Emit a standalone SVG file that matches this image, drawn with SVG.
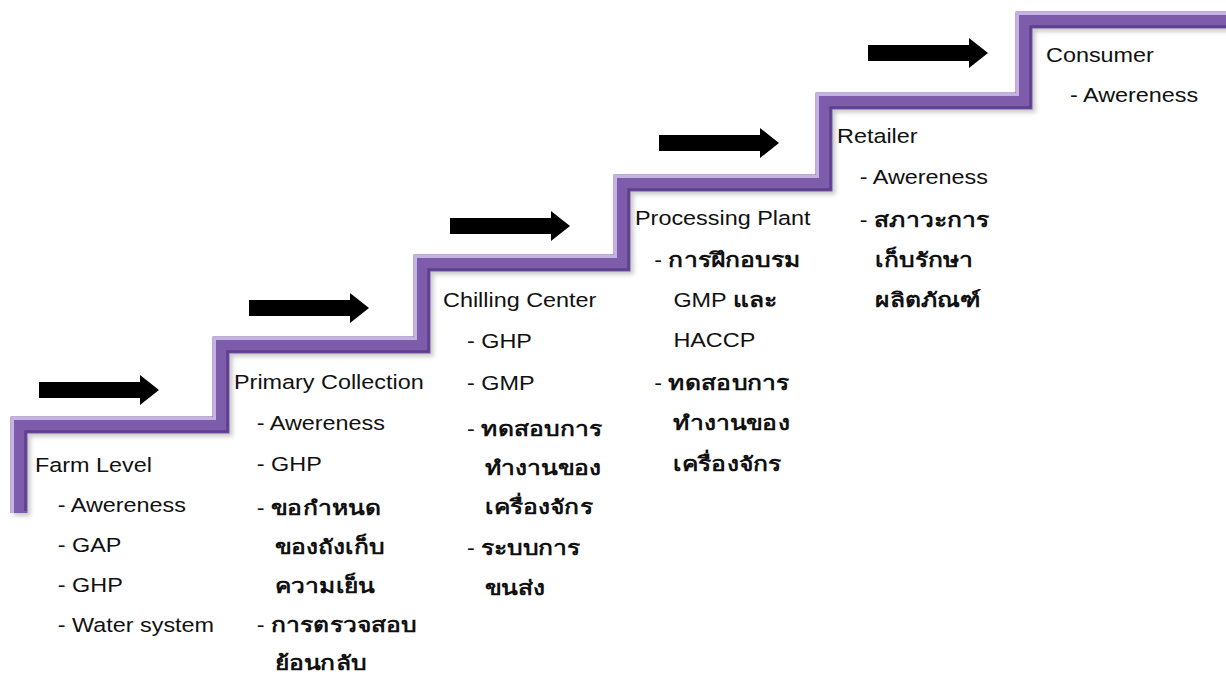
<svg xmlns="http://www.w3.org/2000/svg" width="1226" height="677" viewBox="0 0 1226 677">
<style>
text{font-family:"Liberation Sans","Noto Sans","DejaVu Sans",sans-serif;font-size:19.5px;fill:#111}
.th{font-weight:bold;font-size:20.5px}
.st{fill:none;stroke-linejoin:miter;stroke-linecap:butt}
</style>
<defs>
<filter id="blur" x="-5%" y="-5%" width="110%" height="110%"><feGaussianBlur stdDeviation="2"/></filter>
<path id="arr" d="M0,-8 H101 V-15 L120,0 L101,15 V8 H0 Z" fill="#000"/>
</defs>
<rect width="1226" height="677" fill="#fff"/>
<g id="stairs">
<path class="st" d="M19,513 V425 H221 V345 H422 V263 H622 V183 H824 V101 H1024 V20 H1230" stroke="#888" stroke-width="17" opacity="0.45" transform="translate(3,3)" filter="url(#blur)"/>
<path class="st" d="M19,513 V425 H221 V345 H422 V263 H622 V183 H824 V101 H1024 V20 H1230" stroke="#7e5cac" stroke-width="17"/>
<path class="st" d="M12.5,513 V418.5 H214.5 V338.5 H415.5 V256.5 H615.5 V176.5 H817.5 V94.5 H1017.5 V13.5 H1230" stroke="#c4b2e2" stroke-width="3"/>
<path class="st" d="M25.5,511 V431.5 H227.5 V351.5 H428.5 V269.5 H628.5 V189.5 H830.5 V107.5 H1030.5 V26.5 H1230" stroke="#5e3f8c" stroke-width="2.5"/>
</g>
<g id="connectors">
<use href="#arr" transform="translate(39,390)"/>
<use href="#arr" transform="translate(249,308)"/>
<use href="#arr" transform="translate(450,226)"/>
<use href="#arr" transform="translate(659,143)"/>
<use href="#arr" transform="translate(868,53)"/>
</g>
<g id="farm" transform="translate(35,0) scale(1.2,1)">
<text x="0" y="472">Farm Level</text>
<text x="19" y="512">- Awereness</text>
<text x="19" y="552">- GAP</text>
<text x="19" y="592">- GHP</text>
<text x="19" y="632">- Water system</text>
</g>
<g id="primary" transform="translate(234,0) scale(1.2,1)">
<text x="0" y="389">Primary Collection</text>
<text x="19" y="430">- Awereness</text>
<text x="19" y="471">- GHP</text>
<text x="19" y="515">- <tspan class="th">ขอกำหนด</tspan></text>
<text x="34" y="554" class="th">ของถังเก็บ</text>
<text x="34" y="593" class="th">ความเย็น</text>
<text x="19" y="632">- <tspan class="th">การตรวจสอบ</tspan></text>
<text x="34" y="670" class="th">ย้อนกลับ</text>
</g>
<g id="chilling" transform="translate(443,0) scale(1.2,1)">
<text x="0" y="307">Chilling Center</text>
<text x="20" y="348">- GHP</text>
<text x="20" y="390">- GMP</text>
<text x="20" y="436">- <tspan class="th">ทดสอบการ</tspan></text>
<text x="35" y="475" class="th">ทำงานของ</text>
<text x="35" y="514" class="th">เครื่องจักร</text>
<text x="20" y="555">- <tspan class="th">ระบบการ</tspan></text>
<text x="35" y="595" class="th">ขนส่ง</text>
</g>
<g id="processing" transform="translate(635,0) scale(1.2,1)">
<text x="0" y="225">Processing Plant</text>
<text x="16" y="267">- <tspan class="th">การฝึกอบรม</tspan></text>
<text x="32" y="307">GMP <tspan class="th">และ</tspan></text>
<text x="32" y="347">HACCP</text>
<text x="16" y="390">- <tspan class="th">ทดสอบการ</tspan></text>
<text x="32" y="430" class="th">ทำงานของ</text>
<text x="32" y="471" class="th">เครื่องจักร</text>
</g>
<g id="retailer" transform="translate(837,0) scale(1.2,1)">
<text x="0" y="143">Retailer</text>
<text x="19" y="184">- Awereness</text>
<text x="19" y="227">- <tspan class="th">สภาวะการ</tspan></text>
<text x="32" y="267" class="th">เก็บรักษา</text>
<text x="32" y="307" class="th">ผลิตภัณฑ์</text>
</g>
<g id="consumer" transform="translate(1046,0) scale(1.2,1)">
<text x="0" y="62">Consumer</text>
<text x="20" y="102">- Awereness</text>
</g>
</svg>
